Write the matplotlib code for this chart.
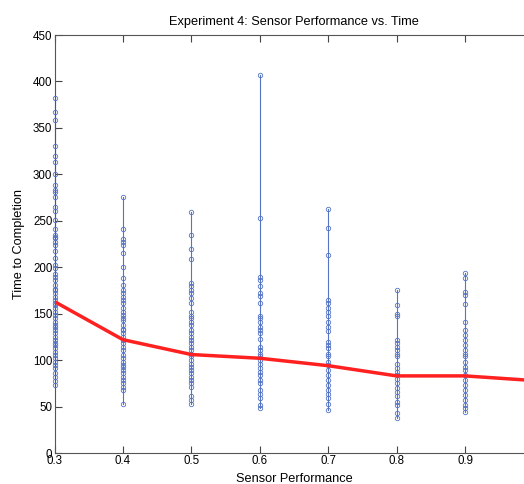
import matplotlib
matplotlib.use("Agg")
import matplotlib.pyplot as plt

plt.rcParams['font.family'] = ['Liberation Sans', 'DejaVu Sans']

sensor_levels = [0.3, 0.4, 0.5, 0.6, 0.7, 0.8, 0.9]

times_03 = [382, 367, 358, 330, 320, 313, 300, 288, 283, 281, 276, 265, 261, 251, 241, 233,
            235, 231, 227, 224, 217, 210, 202, 199, 193, 190, 186, 181, 177, 175, 172, 168,
            165, 161, 159, 156, 152, 149, 145, 141, 138, 136, 132, 129, 125, 122, 118, 116,
            113, 109, 105, 102, 98, 95, 91, 86, 82, 77, 73]
times_04 = [276, 241, 230, 227, 224, 215, 200, 188, 181, 175, 172, 168, 165, 161, 156, 152,
            149, 145, 143, 138, 134, 132, 129, 125, 122, 118, 114, 111, 105, 102, 98, 95,
            93, 89, 86, 82, 79, 75, 71, 68, 53]
times_05 = [259, 235, 220, 209, 183, 180, 175, 172, 167, 161, 152, 148, 145, 141, 138, 132,
            129, 125, 122, 118, 114, 111, 107, 104, 100, 96, 93, 89, 86, 82, 79, 75, 71,
            61, 57, 53]
times_06 = [407, 253, 190, 186, 180, 172, 169, 161, 148, 145, 141, 136, 132, 129, 123, 114,
            111, 107, 104, 100, 96, 91, 87, 84, 79, 75, 68, 64, 59, 52, 48]
times_07 = [263, 242, 213, 165, 161, 156, 152, 147, 141, 136, 131, 120, 116, 113, 107, 104,
            98, 95, 89, 84, 79, 73, 68, 64, 59, 53, 46]
times_08 = [176, 159, 150, 147, 122, 118, 114, 111, 107, 104, 96, 91, 87, 84, 80, 75, 70,
            66, 61, 55, 52, 43, 38]
times_09 = [194, 188, 173, 170, 160, 141, 132, 127, 122, 116, 111, 107, 104, 98, 93, 89,
            84, 79, 73, 68, 62, 57, 52, 48, 44]
all_times = [times_03, times_04, times_05, times_06, times_07, times_08, times_09]

mean_x = [0.3, 0.4, 0.5, 0.6, 0.7, 0.8, 0.9, 1.0]
mean_times = [163, 122, 106, 102, 94, 83, 83, 78]

title = "Experiment 4: Sensor Performance vs. Time"
xlabel = "Sensor Performance"
ylabel = "Time to Completion"
xticks = [0.3, 0.4, 0.5, 0.6, 0.7, 0.8, 0.9, 1.0]
xticklabels = ["0.3", "0.4", "0.5", "0.6", "0.7", "0.8", "0.9", ""]
yticks = [0, 50, 100, 150, 200, 250, 300, 350, 400, 450]

fig = plt.figure(figsize=(5.24, 4.84), dpi=100)
ax = fig.add_axes([54.5 / 524, 31 / 484, 479 / 524, 418 / 484])

blue = '#5574c4'
for xv, ts in zip(sensor_levels, all_times):
    ax.plot([xv] * len(ts), ts, '-', color=blue, lw=0.8, zorder=2, clip_on=False)
    ax.plot([xv] * len(ts), ts, 'o', mfc='none', mec=blue, mew=0.6, ms=3.2, zorder=3,
            clip_on=False)

ax.plot(mean_x, mean_times, '-', color='#ff2020', lw=2.5, zorder=4)

ax.set_xlim(0.3, 1.0)
ax.set_ylim(0, 450)
ax.set_xticks(xticks)
ax.set_xticklabels(xticklabels)
ax.set_yticks(yticks)
ax.tick_params(direction='in', top=True, right=True, length=5, width=0.8,
               labelsize=8.3, pad=1.5, colors='#444444', labelcolor='black')
for s in ax.spines.values():
    s.set_color('#555555')
    s.set_linewidth(0.8)

ax.set_title(title, fontsize=9.2, pad=7)
ax.set_xlabel(xlabel, fontsize=9.2, labelpad=4)
ax.set_ylabel(ylabel, fontsize=9.2, labelpad=6)

fig.savefig("out.png", dpi=100)
